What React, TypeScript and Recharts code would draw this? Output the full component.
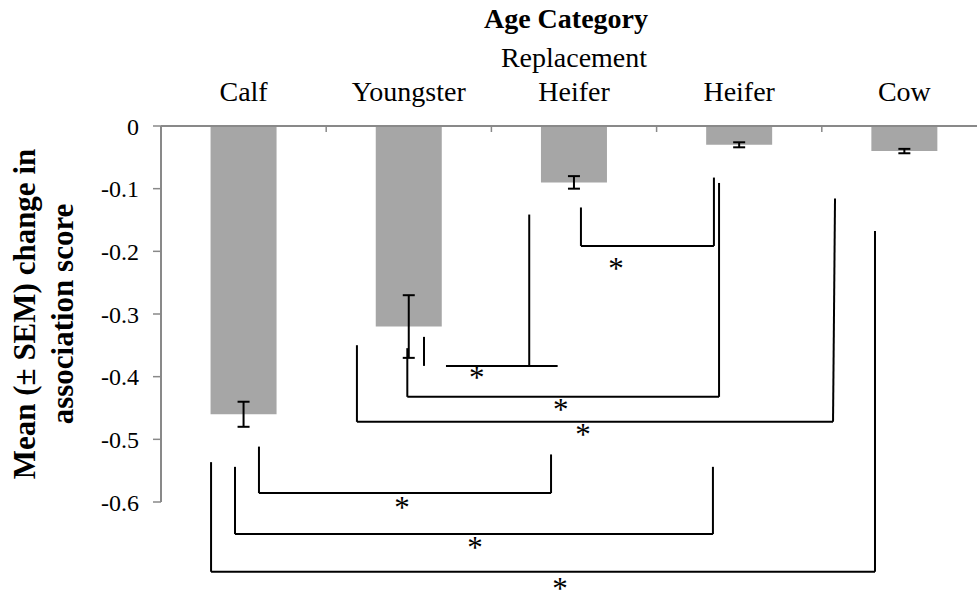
import React from "react";
import { ComposedChart, Bar, XAxis, YAxis, ErrorBar, ReferenceLine, ReferenceDot } from "recharts";

const FONT = "'Liberation Serif', 'Times New Roman', serif";
const AXIS_GREY = "#898989";

const categories = ["Calf", "Youngster", "Replacement Heifer", "Heifer", "Cow"];
const meanChange = [-0.46, -0.32, -0.09, -0.03, -0.04];
const sem = [0.02, 0.05, 0.01, 0.004, 0.0035];
const yTicks = [0, -0.1, -0.2, -0.3, -0.4, -0.5, -0.6];
// tick marks sit between the categories (Excel style)
const boundaryTicks = [1, 2, 3, 4];

// significance brackets, as polylines in (category position, value) units
const brackets: [number, number][][] = [
  [[2.542, -0.13], [2.542, -0.1914], [3.347, -0.1914], [3.347, -0.0823]],
  [[1.592, -0.3365], [1.592, -0.3828]],
  [[1.725, -0.3828], [2.401, -0.3828]],
  [[2.229, -0.3828], [2.229, -0.1413]],
  [[1.491, -0.3545], [1.491, -0.4322], [3.378, -0.4322], [3.378, -0.0909]],
  [[1.186, -0.3498], [1.186, -0.4721], [4.068, -0.4721], [4.08, -0.1158]],
  [[0.593, -0.5116], [0.593, -0.5858], [2.361, -0.5858], [2.361, -0.5241]],
  [[0.448, -0.5439], [0.448, -0.6512], [3.341, -0.6512], [3.341, -0.5439]],
  [[0.303, -0.5364], [0.303, -0.7113], [4.322, -0.7113], [4.322, -0.1675]],
];
const starX = [2.754, 1.911, 2.42, 2.554, 1.459, 1.901, 2.415];
const starY = [-0.2195, -0.3944, -0.4455, -0.4853, -0.6013, -0.6651, -0.7309];

// pos = centre of each category in the 0..5 index space used by the brackets
const data = categories.map((name, i) => ({ name, pos: i + 0.5, value: meanChange[i], err: sem[i] }));

function CategoryTick({ x, y, payload }: any) {
  const lines = String(payload.value).split(" ");
  return (
    <text textAnchor="middle" fontSize={28} fontFamily={FONT} fill="#000">
      {lines.map((l, i) => (
        <tspan key={i} x={x} y={y - 25 - (lines.length - 1 - i) * 34}>
          {l}
        </tspan>
      ))}
    </text>
  );
}

function NoLabel() {
  return <g />;
}

function Star(props: any) {
  return (
    <text x={props.cx} y={props.cy} dy={15} textAnchor="middle" fontSize={31} fontFamily={FONT} fill="#000">
      *
    </text>
  );
}

export default function App() {
  const segments: { a: [number, number]; b: [number, number] }[] = [];
  brackets.forEach((pts) => {
    for (let i = 1; i < pts.length; i++) segments.push({ a: pts[i - 1], b: pts[i] });
  });

  return (
    <div style={{ width: 977, height: 594, overflow: "hidden", background: "#fff" }}>
      <style>{"body{margin:0}"}</style>
      <ComposedChart
        width={987}
        height={594}
        data={data}
        margin={{ top: 36, right: 0, bottom: 92, left: 81 }}
        barCategoryGap="30%"
      >
        <XAxis
          xAxisId="idx"
          dataKey="pos"
          type="number"
          domain={[0, 5]}
          allowDataOverflow
          ticks={boundaryTicks}
          interval={0}
          orientation="top"
          mirror
          height={2}
          axisLine={false}
          tick={<NoLabel />}
          tickSize={6}
          tickLine={{ stroke: AXIS_GREY, strokeWidth: 1.5 }}
        />
        <XAxis
          xAxisId="cat"
          dataKey="name"
          orientation="top"
          height={90}
          interval={0}
          tickSize={0}
          tickMargin={0}
          tickLine={false}
          axisLine={{ stroke: AXIS_GREY, strokeWidth: 2 }}
          tick={<CategoryTick />}
        />
        <YAxis
          domain={[-0.6, 0]}
          ticks={yTicks}
          interval={0}
          width={80}
          tickSize={8}
          tickMargin={14}
          axisLine={{ stroke: AXIS_GREY, strokeWidth: 2 }}
          tickLine={{ stroke: AXIS_GREY, strokeWidth: 1.5 }}
          tick={{ fontSize: 24, fill: "#000", fontFamily: FONT }}
        />
        <Bar xAxisId="cat" dataKey="value" fill="#A6A6A6" isAnimationActive={false}>
          <ErrorBar dataKey="err" width={6} stroke="#000" strokeWidth={2} direction="y" isAnimationActive={false} />
        </Bar>
        {segments.map((s, i) => (
          <ReferenceLine
            key={"seg" + i}
            xAxisId="idx"
            segment={[
              { x: s.a[0], y: s.a[1] },
              { x: s.b[0], y: s.b[1] },
            ]}
            stroke="#000"
            strokeWidth={2}
            ifOverflow="visible"
          />
        ))}
        {starX.map((sx, i) => (
          <ReferenceDot key={"star" + i} xAxisId="idx" x={sx} y={starY[i]} r={0} ifOverflow="visible" shape={<Star />} />
        ))}
        <text x={566} y={28} textAnchor="middle" fontSize={28} fontWeight="bold" fontFamily={FONT} fill="#000">
          Age Category
        </text>
        <text
          x={24}
          y={314}
          transform="rotate(-90, 24, 314)"
          textAnchor="middle"
          dominantBaseline="central"
          fontSize={31}
          fontWeight="bold"
          fontFamily={FONT}
          fill="#000"
        >
          Mean (± SEM) change in
        </text>
        <text
          x={62}
          y={314}
          transform="rotate(-90, 62, 314)"
          textAnchor="middle"
          dominantBaseline="central"
          fontSize={31}
          fontWeight="bold"
          fontFamily={FONT}
          fill="#000"
        >
          association score
        </text>
      </ComposedChart>
    </div>
  );
}
